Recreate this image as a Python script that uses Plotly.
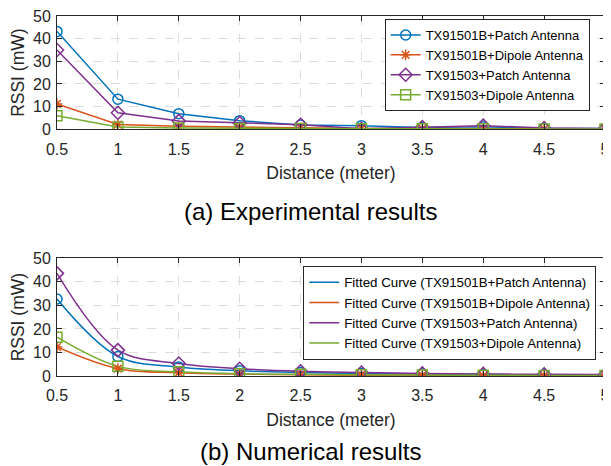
import plotly.graph_objects as go

distance = [0.5, 1, 1.5, 2, 2.5, 3, 3.5, 4, 4.5, 5]

# (a) Experimental results
exp_b_patch = [43.2, 13.3, 6.9, 3.8, 1.9, 1.6, 0.8, 1.1, 0.4, 0.3]
exp_b_dipole = [11.2, 2.1, 1.3, 0.9, 0.5, 0.4, 0.3, 0.3, 0.2, 0.2]
exp_3_patch = [35.0, 7.3, 3.7, 2.8, 2.0, 0.2, 1.0, 1.6, 0.6, 0.4]
exp_3_dipole = [6.0, 1.0, 0.6, 0.4, 0.3, 0.2, 0.2, 0.2, 0.1, 0.1]

# (b) Numerical (fitted) results
fit_b_patch = [32.7, 8.3, 3.8, 2.2, 1.5, 1.1, 0.8, 0.6, 0.5, 0.4]
fit_b_dipole = [12.3, 3.1, 1.4, 0.8, 0.5, 0.35, 0.3, 0.2, 0.15, 0.1]
fit_3_patch = [43.6, 11.0, 5.3, 3.1, 2.0, 1.5, 1.1, 0.9, 0.7, 0.6]
fit_3_dipole = [16.5, 4.1, 1.8, 1.0, 0.7, 0.5, 0.4, 0.3, 0.25, 0.2]

exp_names = ["TX91501B+Patch Antenna", "TX91501B+Dipole Antenna",
             "TX91503+Patch Antenna", "TX91503+Dipole Antenna"]
fit_names = ["Fitted Curve (TX91501B+Patch Antenna)", "Fitted Curve (TX91501B+Dipole Antenna)",
             "Fitted Curve (TX91503+Patch Antenna)", "Fitted Curve (TX91503+Dipole Antenna)"]

x_ticks = [0.5, 1, 1.5, 2, 2.5, 3, 3.5, 4, 4.5, 5]
x_ticktext = ["0.5", "1", "1.5", "2", "2.5", "3", "3.5", "4", "4.5", "5"]
y_ticks = [0, 10, 20, 30, 40, 50]

colors = ["#0072BD", "#D95319", "#7E2F8E", "#77AC30"]
symbols = ["circle-open", "asterisk-open", "diamond-open", "square-open"]
FONT = "Liberation Sans, Arial, sans-serif"

fig = go.Figure()

exp_series = [exp_b_patch, exp_b_dipole, exp_3_patch, exp_3_dipole]
for vals, name, c, s in zip(exp_series, exp_names, colors, symbols):
    fig.add_trace(go.Scatter(
        x=distance, y=vals, name=name, mode="lines+markers",
        line=dict(color=c, width=1.5),
        marker=dict(symbol=s, size=10 if s != "asterisk-open" else 9,
                    color=c, line=dict(width=1.5, color=c)),
        xaxis="x", yaxis="y", legend="legend"))

fit_series = [fit_b_patch, fit_b_dipole, fit_3_patch, fit_3_dipole]
for vals, name, c in zip(fit_series, fit_names, colors):
    fig.add_trace(go.Scatter(
        x=distance, y=vals, name=name, mode="lines",
        line=dict(color=c, width=1.5, shape="spline", smoothing=1.0),
        xaxis="x2", yaxis="y2", legend="legend2"))
for vals, c, s in zip(fit_series, colors, symbols):
    fig.add_trace(go.Scatter(
        x=distance, y=vals, mode="markers", showlegend=False,
        marker=dict(symbol=s, size=10 if s != "asterisk-open" else 9,
                    color=c, line=dict(width=1.5, color=c)),
        xaxis="x2", yaxis="y2"))

axis_common = dict(
    showline=True, linecolor="#262626", linewidth=1, mirror="ticks",
    ticks="inside", ticklen=5, tickcolor="#262626",
    showgrid=True, gridcolor="#dcdcdc", griddash="dash", gridwidth=1,
    zeroline=False, tickfont=dict(family=FONT, size=16, color="#262626"),
    ticklabeloverflow="allow", automargin=False,
)

xaxis_common = dict(axis_common, range=[0.5, 5], tickvals=x_ticks, ticktext=x_ticktext,
                    ticklabelstandoff=5)
yaxis_common = dict(axis_common, range=[0, 50], tickvals=y_ticks, ticklabelstandoff=2)
title_font = dict(family=FONT, size=17.5, color="#262626")

legend_common = dict(
    bgcolor="white", bordercolor="#262626", borderwidth=1,
    xanchor="right", yanchor="top", tracegroupgap=0, itemwidth=30,
)

PH = 360.0  # plot-area height in px (page y 16 .. 376)
fig.update_layout(
    width=611, height=458,
    margin=dict(l=49, r=14, t=8, b=90, autoexpand=False),
    paper_bgcolor="white", plot_bgcolor="white",
    font=dict(family=FONT, color="#262626"),
    xaxis=dict(xaxis_common, domain=[0, 1], anchor="y",
               title=dict(text="Distance (meter)", font=title_font, standoff=10)),
    yaxis=dict(yaxis_common, domain=[(376 - 129.3) / PH, 1.0], anchor="x",
               title=dict(text="RSSI (mW)", font=title_font, standoff=8)),
    xaxis2=dict(xaxis_common, domain=[0, 1], anchor="y2",
                title=dict(text="Distance (meter)", font=title_font, standoff=10)),
    yaxis2=dict(yaxis_common, domain=[0, (376 - 258.3) / PH], anchor="x2",
                title=dict(text="RSSI (mW)", font=title_font, standoff=8)),
    legend=dict(legend_common, x=0.972, y=(376 - 19) / PH,
                font=dict(family=FONT, size=13, color="black")),
    legend2=dict(legend_common, x=0.984, y=(376 - 266) / PH,
                 font=dict(family=FONT, size=13.3, color="black")),
    showlegend=True,
    annotations=[
        dict(text="(a) Experimental results", xref="paper", yref="paper",
             x=0.463, y=(376 - 211) / PH, xanchor="center", yanchor="middle",
             showarrow=False, font=dict(family=FONT, size=24, color="black")),
        dict(text="(b) Numerical results", xref="paper", yref="paper",
             x=0.463, y=(376 - 452) / PH, xanchor="center", yanchor="middle",
             showarrow=False, font=dict(family=FONT, size=24, color="black")),
    ],
)

fig.write_html("out.html")
